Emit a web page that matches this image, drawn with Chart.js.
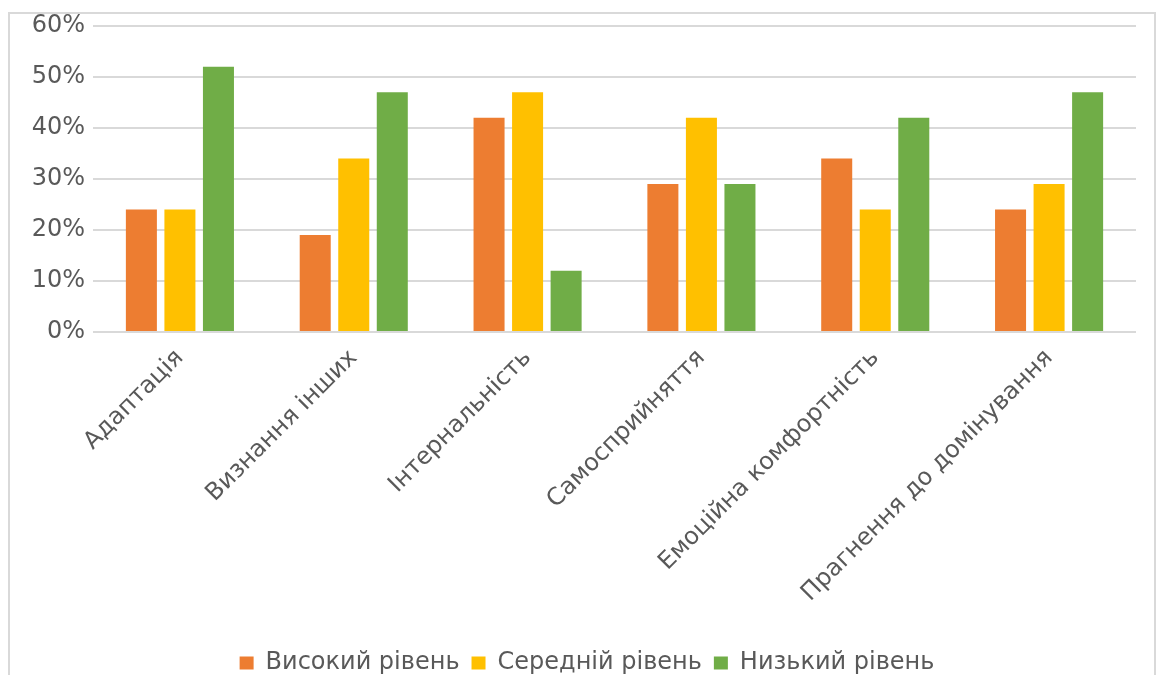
<!DOCTYPE html>
<html>
<head>
<meta charset="utf-8">
<script src="https://cdn.jsdelivr.net/npm/chart.js@4/dist/chart.umd.min.js"></script>
<style>
  html, body { margin: 0; padding: 0; background: #ffffff; overflow: hidden; width: 1166px; height: 675px; }
  #frame { position: absolute; left: 8px; top: 12px; width: 1148px; height: 700px; border: 2px solid #d9d9d9; box-sizing: border-box; }
  #wrap { position: absolute; left: 0; top: 0; width: 1166px; height: 700px; }
</style>
</head>
<body>
<div id="frame"></div>
<div id="wrap"><canvas id="chart" width="1166" height="700"></canvas></div>
<script>
// Рівні сформованості за шкалами (у відсотках)
const categories = ['Адаптація', 'Визнання інших', 'Інтернальність', 'Самосприйняття', 'Емоційна комфортність', 'Прагнення до домінування'];
const highLevel = [24, 19, 42, 29, 34, 24];
const midLevel = [24, 34, 47, 42, 24, 29];
const lowLevel = [52, 47, 12, 29, 42, 47];
const seriesNames = ['Високий рівень', 'Середній рівень', 'Низький рівень'];
const yTicks = [0, 10, 20, 30, 40, 50, 60];

const FONT = "'DejaVu Sans', sans-serif";
const TEXT = '#595959';
const GRID = '#d9d9d9';

const colors = ['#ED7D31', '#FFC000', '#70AD47'];
const values = [highLevel, midLevel, lowLevel];

// the legend is centred on the whole frame, not on the plot columns
const legendShift = {
  id: 'legendShift',
  afterLayout(chart) {
    chart.legend.left += 15;
    chart.legend.right += 15;
  }
};

new Chart(document.getElementById('chart'), {
  type: 'bar',
  data: {
    labels: categories,
    datasets: seriesNames.map((name, i) => ({
      label: name,
      data: values[i],
      backgroundColor: colors[i],
      borderWidth: 0,
      categoryPercentage: 0.665,
      barPercentage: 0.805
    }))
  },
  options: {
    responsive: false,
    animation: false,
    devicePixelRatio: 1,
    layout: { padding: { left: 8, right: 30, top: 26, bottom: 15 } },
    plugins: {
      tooltip: { enabled: false },
      legend: {
        position: 'bottom',
        labels: {
          color: TEXT,
          font: { family: FONT, size: 24 },
          boxWidth: 14,
          boxHeight: 13,
          padding: 12
        }
      }
    },
    scales: {
      x: {
        grid: { display: false },
        border: { display: false },
        ticks: {
          color: TEXT,
          font: { family: FONT, size: 24 },
          maxRotation: 45,
          minRotation: 45,
          autoSkip: false,
          padding: 4
        },
        afterFit: (s) => { s.height = 307; }
      },
      y: {
        min: 0,
        max: 60,
        afterBuildTicks: (s) => { s.ticks = yTicks.map(v => ({ value: v })); },
        grid: { color: GRID, lineWidth: 2, drawTicks: false },
        border: { display: false },
        ticks: {
          color: TEXT,
          font: { family: FONT, size: 24 },
          padding: 8,
          callback: (v) => v + '%'
        },
        afterFit: (s) => { s.width = 85; }
      }
    }
  },
  plugins: [legendShift]
});
</script>
</body>
</html>
